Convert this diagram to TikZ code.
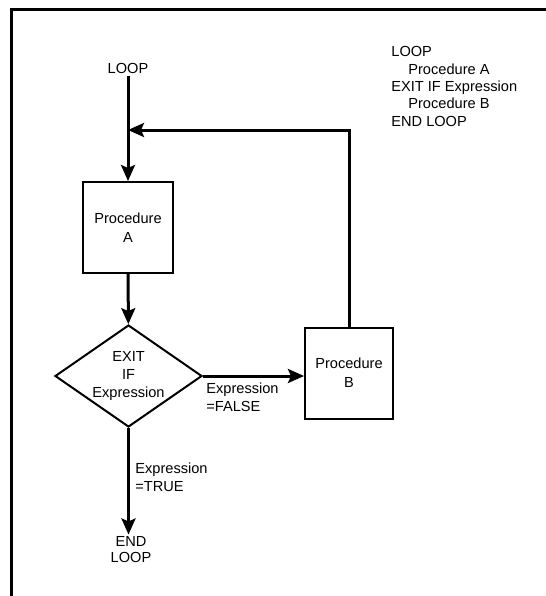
\documentclass[tikz,border=0pt]{standalone}
\usepackage{fontspec}
\setmainfont{Liberation Sans}
\usetikzlibrary{arrows.meta,shapes.geometric,calc}
\tikzset{
  procbox/.style={draw=black, line width=1pt, align=center, minimum width=#1, minimum height=45.5pt, inner sep=0pt, font=\fontsize{7.3}{9.5}\selectfont},
  procbox/.default={45pt},
  decision/.style={draw=black, line width=1pt, diamond, aspect=1.44, inner sep=0pt, minimum width=73.5pt, minimum height=51pt, align=center, font=\fontsize{7.3}{9}\selectfont},
  flowline/.style={-{Stealth[length=8pt, width=7pt, inset=1.5pt]}, line width=1.5pt, draw=black},
  lbl/.style={font=\fontsize{7.3}{9}\selectfont, inner sep=1pt, align=left},
  term/.style={font=\fontsize{7.3}{8}\selectfont, inner sep=1pt, align=center}
}
\begin{document}
\begin{tikzpicture}[x=0.5pt, y=-0.5pt]
    \useasboundingbox (0,0) rectangle (546,596);
    % frame (only left and top edge show)
    \draw[line width=1.5pt] (11,596) -- (11,9) -- (546,9);
    % flow chart
    \node[term] (loop) at (128,68) {LOOP};
    \node[procbox] (procA) at (128,227.5) {Procedure\\ A};
    \node[decision] (exitif) at (128.5,376) {EXIT\\ IF\\ Expression};
    \node[procbox={44pt}] (procB) at (349,373) {Procedure\\ B};
    \node[term] (endloop) at (131,550) {END\\ LOOP};
    \coordinate (join) at (128,130);
    \draw[flowline] (loop) -- (procA);
    \draw[flowline] (procA) -- (exitif);
    \draw[flowline] (exitif.east) -- (exitif.east -| procB.west);
    \draw[flowline] (exitif) -- (endloop.north -| exitif.south);
    \draw[flowline] (procB.north) |- (join);
    \node[lbl, anchor=north west] (falselbl) at (204,381) {Expression\\=FALSE};
    \node[lbl, anchor=north west] (truelbl) at (133,461) {Expression\\=TRUE};
    % program text
    \node[lbl, anchor=north west, font=\fontsize{7.3}{8.7}\selectfont] (code) at (389,44) {LOOP\\ \hspace*{8.5pt}Procedure A\\ EXIT IF Expression\\ \hspace*{8.5pt}Procedure B\\ END LOOP};
\end{tikzpicture}
\end{document}
